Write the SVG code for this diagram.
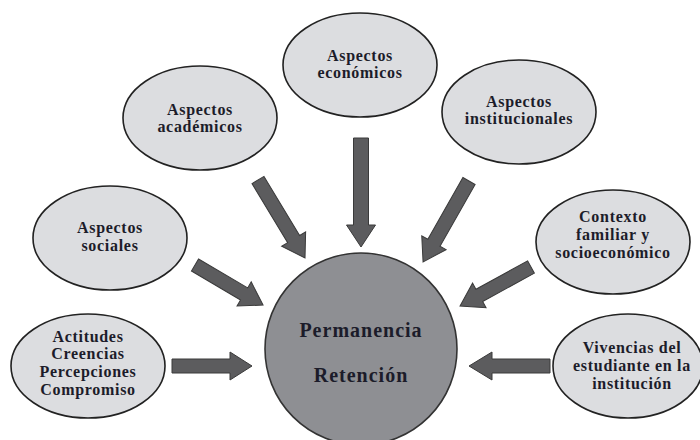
<svg xmlns="http://www.w3.org/2000/svg" width="700" height="440" viewBox="0 0 700 440">
<style>
.node ellipse{fill:#dcdde0;stroke:#222;stroke-width:1.6}
.node text{font-family:"Liberation Serif","Times New Roman",serif;font-weight:bold;font-size:16px;letter-spacing:0.7px;fill:#1c1c2a;text-anchor:middle}
#center circle{fill:#8e8f93;stroke:#333;stroke-width:1.6}
#center text{font-size:20px;letter-spacing:1px}
.arrow{fill:#5c5c5e;stroke:#3a3a3a;stroke-width:1}
</style>
<rect width="700" height="440" fill="#fff"/>
<g id="connectors">
<polygon class="arrow" transform="translate(258,180) rotate(58.9)" points="0,-7 69,-7 69,-14 91,0 69,14 69,7 0,7"/>
<polygon class="arrow" transform="translate(361,138) rotate(90)" points="0,-7.5 87,-7.5 87,-14.5 109,0 87,14.5 87,7.5 0,7.5"/>
<polygon class="arrow" transform="translate(469,181) rotate(119.6)" points="0,-7 71,-7 71,-14 93,0 71,14 71,7 0,7"/>
<polygon class="arrow" transform="translate(195,265) rotate(30.5)" points="0,-7 57,-7 57,-14 79,0 57,14 57,7 0,7"/>
<polygon class="arrow" transform="translate(531,267) rotate(151.2)" points="0,-7 59,-7 59,-14 81,0 59,14 59,7 0,7"/>
<polygon class="arrow" transform="translate(172,366) rotate(0)" points="0,-7 58,-7 58,-14 80,0 58,14 58,7 0,7"/>
<polygon class="arrow" transform="translate(550,366) rotate(180)" points="0,-7 58,-7 58,-14 81,0 58,14 58,7 0,7"/>
</g>
<g id="center" class="node">
<circle cx="361" cy="349" r="96"/>
<text x="361" y="337">Permanencia</text>
<text x="361" y="382">Retención</text>
</g>
<g id="economicos" class="node">
<ellipse cx="360" cy="65" rx="77" ry="52"/>
<text x="360" y="61">Aspectos</text>
<text x="360" y="78">económicos</text>
</g>
<g id="academicos" class="node">
<ellipse cx="200" cy="118" rx="77" ry="52"/>
<text x="200" y="115">Aspectos</text>
<text x="200" y="132">académicos</text>
</g>
<g id="institucionales" class="node">
<ellipse cx="519" cy="112" rx="77" ry="52"/>
<text x="519" y="107">Aspectos</text>
<text x="519" y="124">institucionales</text>
</g>
<g id="sociales" class="node">
<ellipse cx="110" cy="238" rx="77" ry="52"/>
<text x="110" y="233">Aspectos</text>
<text x="110" y="251">sociales</text>
</g>
<g id="actitudes" class="node">
<ellipse cx="88" cy="366" rx="77" ry="52"/>
<text x="88" y="342">Actitudes</text>
<text x="88" y="359">Creencias</text>
<text x="88" y="377">Percepciones</text>
<text x="88" y="395">Compromiso</text>
</g>
<g id="contexto" class="node">
<ellipse cx="613" cy="242" rx="77" ry="52"/>
<text x="613" y="222">Contexto</text>
<text x="613" y="240">familiar y</text>
<text x="613" y="258">socioeconómico</text>
</g>
<g id="vivencias" class="node">
<ellipse cx="628" cy="366" rx="75" ry="52"/>
<text x="632" y="353">Vivencias del</text>
<text x="632" y="371">estudiante en la</text>
<text x="632" y="389">institución</text>
</g>
</svg>
